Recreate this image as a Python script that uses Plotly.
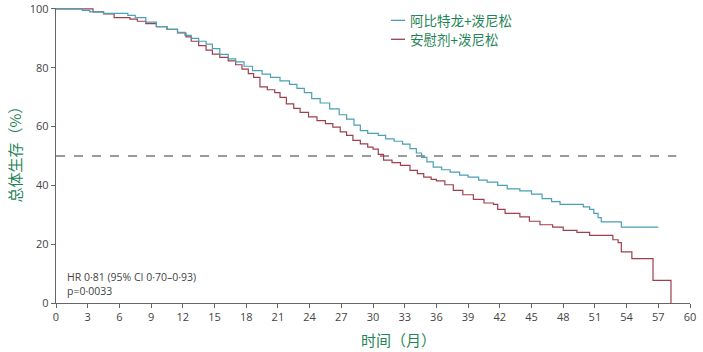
import plotly.graph_objects as go

# Abiraterone + prednisone (teal)
abi_t = [0, 2.5, 3.2, 4.5, 6.8, 7.5, 8.5, 9.5, 10.5, 11.5, 12.2, 12.8, 13.5, 14.2, 14.8,
         15.5, 16.3, 17.0, 17.8, 18.6, 19.5, 20.3, 21.2, 22.1, 22.8, 23.5, 24.2, 25.0,
         25.9, 26.8, 27.5, 28.2, 28.8, 29.5, 30.5, 31.2, 32.0, 32.8, 33.5, 34.1, 34.6,
         35.1, 35.7, 36.5, 37.3, 38.2, 39.0, 40.0, 40.8, 41.8, 42.7, 43.9, 45.0, 46.0,
         46.9, 47.7, 49.9, 50.5, 50.9, 51.3, 51.6, 53.5, 57.0]
abi_s = [100, 99.5, 99, 98.5, 97.8, 97, 95.5, 94, 93, 92, 91, 90, 89, 88, 86.5,
         84.5, 83, 82, 80.5, 79, 77.8, 76.7, 75.5, 74.3, 73, 71.5, 69.5, 68,
         66, 64, 62.5, 60.5, 58.6, 57.7, 57, 55.8, 55, 54, 52.5, 51, 49.5,
         48, 46.2, 45.3, 44.5, 43.5, 42.8, 41.8, 41.1, 40, 38.8, 38.1, 37, 35.5,
         34.5, 33.5, 32.7, 31.8, 30.5, 29, 27.6, 25.8, 25.8]

# Placebo + prednisone (maroon)
pla_t = [0, 3.5, 4.5, 5.5, 7.0, 7.7, 8.5, 9.5, 10.5, 11.5, 12.3, 12.8, 13.5, 14.2, 14.8,
         15.5, 16.3, 17.0, 17.6, 18.2, 18.7, 19.3, 20.0, 20.7, 21.2, 21.8, 22.5, 23.1,
         23.9, 24.7, 25.5, 26.2, 26.9, 27.5, 28.1, 28.8, 29.5, 30.0, 30.5, 31.0, 31.8,
         32.6, 33.5, 34.2, 34.8, 35.5, 36.0, 36.8, 37.6, 38.5, 39.5, 40.5, 41.4, 41.8,
         42.5, 43.9, 44.8, 45.8, 47.0, 48.0, 49.3, 50.5, 52.7, 53.2, 53.5, 54.5, 56.5, 58.2]
pla_s = [100, 99, 98.3, 97, 96.5, 95.8, 95, 94, 93, 91.8, 90.5, 89, 87.5, 86, 84.6,
         83.5, 82.3, 81, 79.5, 78, 76.7, 73.5, 72.5, 71.5, 69.9, 67.7, 66.2, 64.8,
         63.3, 62, 61, 59.8, 58.2, 57, 55.3, 54.1, 53, 52.3, 50.5, 48.6, 47.7,
         46.8, 45.1, 44, 42.8, 42, 41.5, 40.2, 38.3, 36.8, 35.2, 34, 33.5, 31.8,
         30.5, 29.3, 27.8, 26.6, 25.8, 24.7, 24, 23, 21.5, 20.5, 17.4, 15.1, 7.7, 0]

series_names = ["阿比特龙+泼尼松", "安慰剂+泼尼松"]
x_ticks = list(range(0, 61, 3))
y_ticks = [0, 20, 40, 60, 80, 100]
ref_line = [0, 58.7]
ref_val = 50

GREEN = "#1f8556"
TEAL = "#4aa0b4"
MAROON = "#9e3f4d"
FONT = "Open Sans"

fig = go.Figure()
fig.add_trace(go.Scatter(x=ref_line, y=[ref_val, ref_val], mode="lines",
                         line=dict(color="#9a9a9a", width=2, dash="dash"),
                         hoverinfo="skip", showlegend=False))
fig.add_trace(go.Scatter(x=pla_t, y=pla_s, mode="lines", line_shape="hv",
                         line=dict(color=MAROON, width=1.2), name=series_names[1],
                         showlegend=False))
fig.add_trace(go.Scatter(x=abi_t, y=abi_s, mode="lines", line_shape="hv",
                         line=dict(color=TEAL, width=1.2), name=series_names[0],
                         showlegend=False))

axis_common = dict(showgrid=False, zeroline=False, showline=True, linecolor="#666",
                   linewidth=1.3, ticks="outside", ticklen=4, tickcolor="#666",
                   ticklabeloverflow="allow", automargin=False,
                   tickfont=dict(family=FONT, size=11, color="#444"))
fig.update_xaxes(range=[0, 60], tickvals=x_ticks, **axis_common)
fig.update_yaxes(range=[0, 100.3], tickvals=y_ticks, **axis_common)

PW, PH = 634, 295.9
# legend built from line samples + text
for i, (name, col) in enumerate(zip(series_names, [TEAL, MAROON])):
    ypx = 19.5 + i * 19
    yp = (303 - ypx) / PH
    fig.add_shape(type="line", xref="paper", yref="paper",
                  x0=(391 - 56) / PW, x1=(405 - 56) / PW, y0=yp, y1=yp,
                  line=dict(color=col, width=1.3))
    fig.add_annotation(xref="paper", yref="paper", x=(408 - 56) / PW, y=yp,
                       xanchor="left", yanchor="middle", text=name, showarrow=False,
                       font=dict(family="Noto Sans CJK SC", size=13.5, color=GREEN))

fig.add_annotation(xref="paper", yref="paper", x=(65 - 56) / PW, y=(303 - 277) / PH,
                   xanchor="left", yanchor="middle", showarrow=False,
                   text="HR 0·81 (95% CI 0·70–0·93)",
                   font=dict(family=FONT, size=10.5, color="#444"))
fig.add_annotation(xref="paper", yref="paper", x=(65 - 56) / PW, y=(303 - 291) / PH,
                   xanchor="left", yanchor="middle", showarrow=False,
                   text="p=0·0033",
                   font=dict(family=FONT, size=10.5, color="#444"))

# axis titles
fig.add_annotation(xref="paper", yref="paper", x=(398 - 56) / PW, y=(303 - 340) / PH,
                   xanchor="center", yanchor="middle", showarrow=False,
                   text="时间（月）",
                   font=dict(family="Noto Sans CJK SC", size=15, color=GREEN))
fig.add_annotation(xref="paper", yref="paper", x=(14 - 56) / PW, y=(303 - 150) / PH,
                   xanchor="center", yanchor="middle", showarrow=False, textangle=-90,
                   text="总体生存（%）",
                   font=dict(family="Noto Sans CJK SC", size=15, color=GREEN))

fig.update_layout(width=703, height=352, margin=dict(l=56, r=13, t=8, b=49),
                  plot_bgcolor="white", paper_bgcolor="white", showlegend=False)

fig.write_html("out.html")
